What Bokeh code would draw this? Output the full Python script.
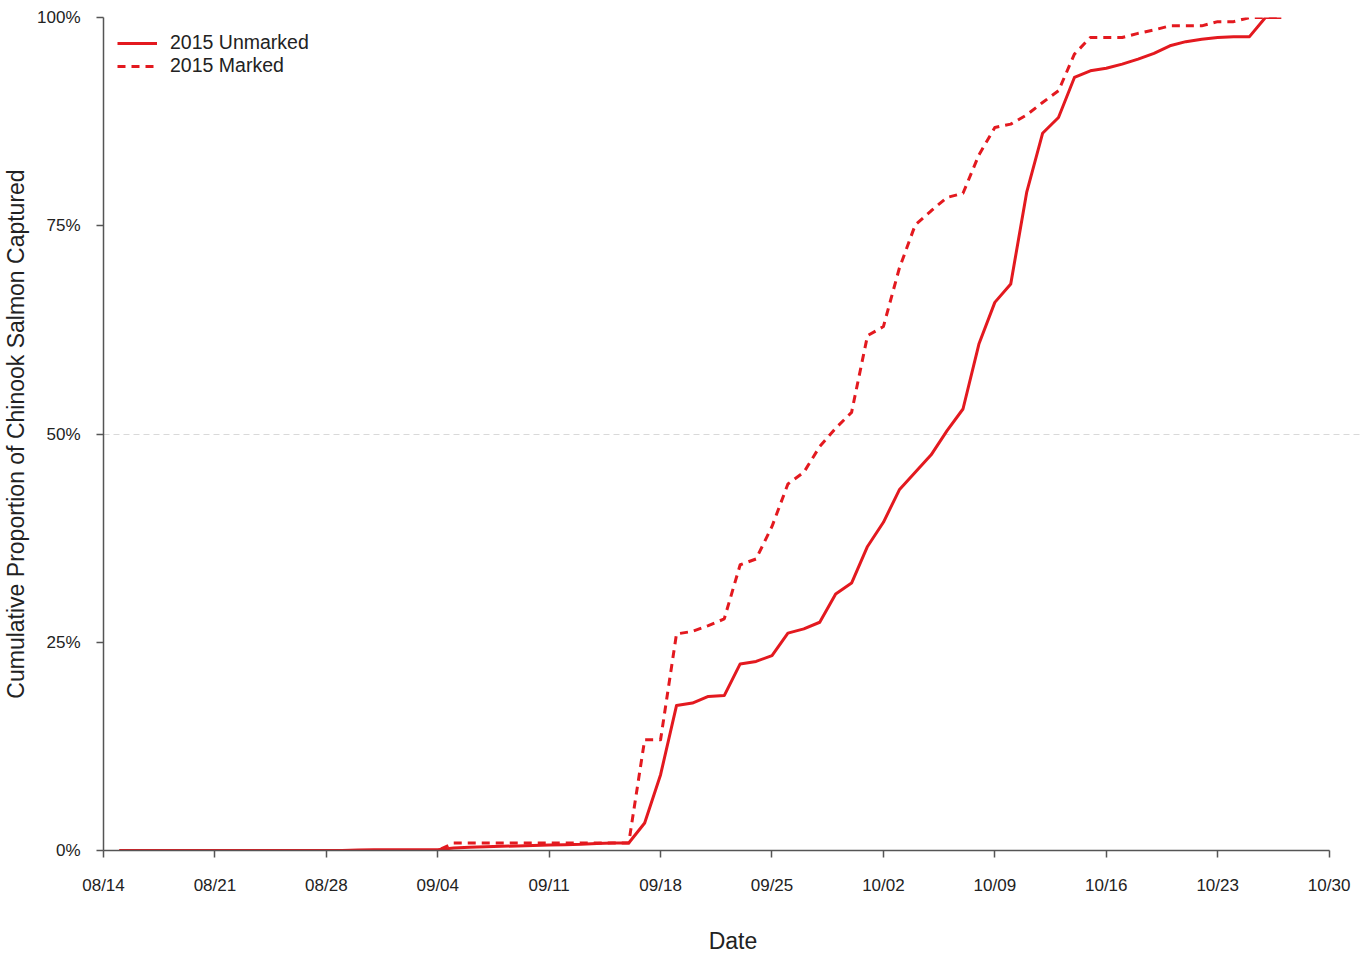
import pandas as pd
from bokeh.plotting import figure
from bokeh.models import (FixedTicker, NumeralTickFormatter, DatetimeTickFormatter,
                          Range1d, ColumnDataSource, Legend, LegendItem)
from bokeh.embed import file_html
from bokeh.resources import INLINE

# ---- data (cumulative %) ----
dates = pd.date_range("2015-08-15", "2015-10-27", freq="D")

unmarked = [
    0.0, 0.0, 0.0, 0.0, 0.0, 0.0, 0.0, 0.0, 0.0, 0.0,      # 08/15-08/24
    0.0, 0.0, 0.0, 0.0, 0.0, 0.05, 0.1,                   # 08/25-08/31
    0.1, 0.1, 0.1, 0.1, 0.3, 0.4, 0.45, 0.5, 0.55, 0.6,   # 09/01-09/10
    0.65, 0.7, 0.75, 0.85, 0.9, 0.9, 3.3, 9.1, 17.4, 17.7,  # 09/11-09/20
    18.5, 18.6, 22.4, 22.7, 23.4, 26.1, 26.6, 27.4, 30.8, 32.1,  # 09/21-09/30
    36.5, 39.4, 43.3, 45.4, 47.5, 50.4, 53.0, 60.8, 65.8, 68.0,  # 10/01-10/10
    79.0, 86.1, 88.0, 92.8, 93.6, 93.9, 94.4, 95.0, 95.7, 96.6,  # 10/11-10/20
    97.1, 97.4, 97.6, 97.7, 97.7, 100.0, 100.0,                  # 10/21-10/27
]

marked = [
    0.0, 0.0, 0.0, 0.0, 0.0, 0.0, 0.0, 0.0, 0.0, 0.0,      # 08/15-08/24
    0.0, 0.0, 0.0, 0.0, 0.0, 0.0, 0.0,                     # 08/25-08/31
    0.0, 0.0, 0.0, 0.0, 0.9, 0.9, 0.9, 0.9, 0.9, 0.9,      # 09/01-09/10
    0.9, 0.9, 0.9, 0.9, 0.9, 0.9, 13.3, 13.3, 26.0, 26.3,  # 09/11-09/20
    27.0, 27.8, 34.3, 35.0, 38.9, 44.0, 45.4, 48.5, 50.7, 52.6,  # 09/21-09/30
    61.8, 62.9, 69.9, 75.1, 76.8, 78.4, 78.9, 83.5, 86.8, 87.2,  # 10/01-10/10
    88.3, 89.8, 91.2, 95.6, 97.6, 97.6, 97.6, 98.1, 98.5, 99.0,  # 10/11-10/20
    99.0, 99.0, 99.5, 99.5, 100.0, 100.0, 100.0,                 # 10/21-10/27
]

series_names = ["2015 Unmarked", "2015 Marked"]
tick_dates = ["2015-08-14", "2015-08-21", "2015-08-28", "2015-09-04", "2015-09-11",
              "2015-09-18", "2015-09-25", "2015-10-02", "2015-10-09", "2015-10-16",
              "2015-10-23", "2015-10-30"]
y_ticks = [0, 0.25, 0.5, 0.75, 1.0]

RED = "#E3191F"
FONT = "Liberation Sans"


def ms(d):
    return pd.Timestamp(d).value / 1e6


DAY = 86400000.0
x_start = ms(tick_dates[0])
x_end = x_start + 79.1 * DAY

src = ColumnDataSource(dict(
    date=dates,
    unmarked=[v / 100.0 for v in unmarked],
    marked=[v / 100.0 for v in marked],
))

p = figure(width=1362, height=956, x_axis_type="datetime",
           output_backend="svg", toolbar_location=None,
           x_range=Range1d(x_start, x_end), y_range=Range1d(0, 1),
           min_border_top=17, min_border_bottom=0, min_border_left=0, min_border_right=0)

p.outline_line_color = None
p.background_fill_color = "white"
p.border_fill_color = "white"

r1 = p.line("date", "unmarked", source=src, line_color=RED, line_width=3,
            line_join="round")
r2 = p.line("date", "marked", source=src, line_color=RED, line_width=3,
            line_dash="8 6", line_join="round")

# grids: only the dashed 50% line
p.xgrid.visible = False
p.ygrid.ticker = FixedTicker(ticks=[0.5])
p.ygrid.grid_line_color = "#d9d9d9"
p.ygrid.grid_line_dash = "6 4"
p.ygrid.grid_line_width = 1

# x axis
xa = p.xaxis[0]
xa.ticker = FixedTicker(ticks=[ms(d) for d in tick_dates])
fmt = "%m/%d"
xa.formatter = DatetimeTickFormatter(days=fmt, months=fmt, years=fmt, hours=fmt,
                                     minutes=fmt, seconds=fmt, milliseconds=fmt,
                                     microseconds=fmt, hourmin=fmt, minsec=fmt)
xa.bounds = (ms(tick_dates[0]), ms(tick_dates[-1]))
xa.axis_label = "Date"
xa.axis_label_standoff = 30

# y axis
ya = p.yaxis[0]
ya.ticker = FixedTicker(ticks=y_ticks)
ya.formatter = NumeralTickFormatter(format="0%")
ya.bounds = (0, 1)
ya.axis_label = "Cumulative Proportion of Chinook Salmon Captured"
ya.axis_label_standoff = 5

for ax in (xa, ya):
    ax.axis_line_color = "#555555"
    ax.axis_line_width = 1.5
    ax.major_tick_line_color = "#555555"
    ax.major_tick_line_width = 1.5
    ax.major_tick_out = 7
    ax.major_tick_in = 0
    ax.minor_tick_line_color = None
    ax.major_label_text_font = FONT
    ax.major_label_text_font_size = "17px"
    ax.major_label_text_color = "#222222"
    ax.axis_label_text_font = FONT
    ax.axis_label_text_font_size = "23px"
    ax.axis_label_text_font_style = "normal"
    ax.axis_label_text_color = "#222222"

xa.major_label_standoff = 18
ya.major_label_standoff = 16

legend = Legend(items=[LegendItem(label=series_names[0], renderers=[r1]),
                       LegendItem(label=series_names[1], renderers=[r2])],
                location="top_left")
legend.border_line_color = None
legend.background_fill_alpha = 0
legend.margin = 14
legend.padding = 2
legend.spacing = 0
legend.glyph_width = 40
legend.glyph_height = 20
legend.label_height = 20
legend.label_standoff = 13
legend.label_text_font = FONT
legend.label_text_font_size = "19.5px"
legend.label_text_color = "#222222"
p.add_layout(legend)

open("out.html", "w").write(file_html(p, INLINE))
